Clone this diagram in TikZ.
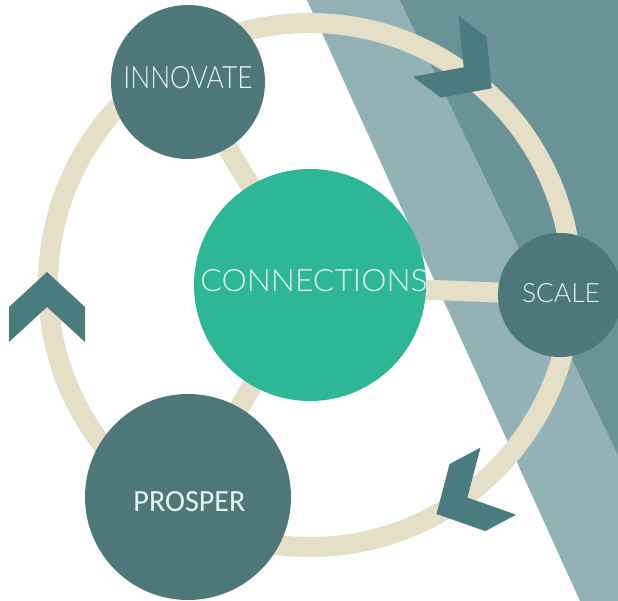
\documentclass[tikz,border=0pt]{standalone}
\usepackage{fontspec}
\setmainfont{Carlito}
\newfontfamily\thinfont{Lato Light}
\usepackage{graphicx}
\usetikzlibrary{backgrounds}
\definecolor{bgLight}{HTML}{93B2B5}
\definecolor{bgDark}{HTML}{6A9397}
\definecolor{ringBeige}{HTML}{E5DFC8}
\definecolor{tealDark}{HTML}{4D7779}
\definecolor{chevCol}{HTML}{4A7B7E}
\definecolor{connGreen}{HTML}{2EB796}
\definecolor{txtCol}{HTML}{E6F4F3}
\begin{document}
\begin{tikzpicture}[x=1pt,y=-1pt,
  ringline/.style={draw=ringBeige,line width=20pt},
  hub/.style={circle,fill=tealDark,inner sep=0pt,draw=none},
  hubtext/.style={text=txtCol,inner sep=0pt},
  chevron/.style={fill=chevCol}]
\useasboundingbox (0,0) rectangle (618,601);
% circles
\node[hub,fill=connGreen,minimum size=232pt,
  label={[hubtext,xshift=4pt,yshift=4pt]center:\resizebox{227pt}{22pt}{\thinfont CONNECTIONS}}] (conn) at (310,285) {};
\node[hub,minimum size=154pt,
  label={[hubtext,yshift=4pt]center:\resizebox{129pt}{22pt}{\thinfont INNOVATE}}] (innov) at (188,82) {};
\node[hub,minimum size=124pt,
  label={[hubtext,xshift=1pt,yshift=2pt]center:\resizebox{78pt}{19pt}{\thinfont SCALE}}] (scale) at (560,295) {};
\node[hub,minimum size=206pt,
  label={[hubtext,xshift=1.5pt,yshift=-4.7pt]center:\resizebox{112pt}{20pt}{PROSPER}}] (prosper) at (188,497) {};
\begin{scope}[on background layer]
  \fill[bgLight] (307,0) -- (618,0) -- (618,601) -- (580,601) -- cycle;
  \fill[bgDark] (400,0) -- (618,0) -- (618,455) -- cycle;
  \draw[ringline] (conn.center) circle (262);
  \draw[ringline] (conn.center) -- (innov.center);
  \draw[ringline] (conn.center) -- (scale.center);
  \draw[ringline] (conn.center) -- (prosper.center);
\end{scope}
% chevrons
\fill[chevron,shift={(47,272)},rotate=90]
  (0,0) -- (-35,38) -- (-70,38) -- (-35,0) -- (-70,-38) -- (-35,-38) -- cycle;
\fill[chevron,shift={(491.7,88.3)},rotate=-36.9]
  (0,0) -- (-35,38) -- (-70,38) -- (-35,0) -- (-70,-38) -- (-35,-38) -- cycle;
\fill[chevron,shift={(436.5,514)},rotate=-152]
  (0,0) -- (-35,38) -- (-70,38) -- (-35,0) -- (-70,-38) -- (-35,-38) -- cycle;
\end{tikzpicture}
\end{document}
